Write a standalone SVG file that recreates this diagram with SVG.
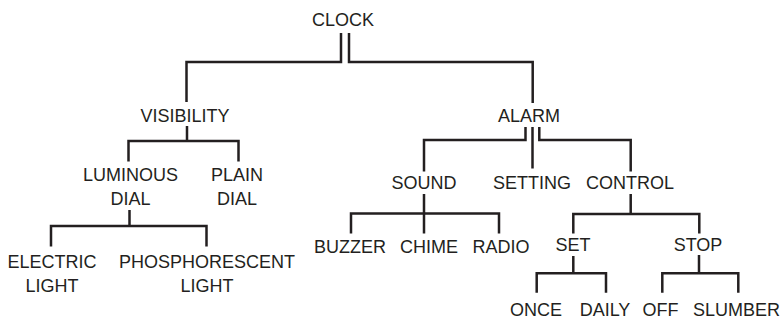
<svg xmlns="http://www.w3.org/2000/svg" width="784" height="320" viewBox="0 0 784 320">
<style>
text{font-family:"Liberation Sans",Arial,sans-serif;font-size:18px;fill:#231f20;text-anchor:middle}
.c path{fill:none;stroke:#231f20;stroke-width:2.5;stroke-linejoin:miter;stroke-linecap:butt}
</style>
<rect width="784" height="320" fill="#fff"/>
<g class="c" id="connectors">
<path d="M341 33V62H186.5V102"/>
<path d="M349 33V62H532.7V103"/>
<path d="M187 126V141M128.5 161.5V141H238.5V161.5"/>
<path d="M129.5 210V226M51 246.5V226H206.5V246.5"/>
<path d="M525.5 127V140H424V171.5"/>
<path d="M532.5 127V168.5"/>
<path d="M539.3 127V140H630.7V171.5"/>
<path d="M424 194V233.5M351 233.5V213.5H499V233.5"/>
<path d="M630.7 194V214M573.3 233.5V214H699.3V233.5"/>
<path d="M573.3 256V273.3M536.7 292.7V273.3H606V292.7"/>
<path d="M699 255V273.3M662.3 292.7V273.3H738.3V292.7"/>
</g>
<g id="clock"><text x="343" y="26">CLOCK</text></g>
<g id="visibility"><text x="185" y="122">VISIBILITY</text></g>
<g id="alarm"><text x="529" y="122">ALARM</text></g>
<g id="luminous-dial"><text x="130.5" y="181">LUMINOUS</text><text x="130.5" y="205">DIAL</text></g>
<g id="plain-dial"><text x="237" y="181">PLAIN</text><text x="237" y="205">DIAL</text></g>
<g id="electric-light"><text x="52" y="268">ELECTRIC</text><text x="52" y="292">LIGHT</text></g>
<g id="phosphorescent-light"><text x="207" y="268">PHOSPHORESCENT</text><text x="207" y="292">LIGHT</text></g>
<g id="sound"><text x="424" y="189">SOUND</text></g>
<g id="setting"><text x="532" y="189">SETTING</text></g>
<g id="control"><text x="630" y="189">CONTROL</text></g>
<g id="buzzer"><text x="350" y="253">BUZZER</text></g>
<g id="chime"><text x="429" y="253">CHIME</text></g>
<g id="radio"><text x="501" y="253">RADIO</text></g>
<g id="set"><text x="573" y="251">SET</text></g>
<g id="stop"><text x="698" y="251">STOP</text></g>
<g id="once"><text x="536" y="316">ONCE</text></g>
<g id="daily"><text x="605" y="316">DAILY</text></g>
<g id="off"><text x="660.5" y="316">OFF</text></g>
<g id="slumber"><text x="736.5" y="316">SLUMBER</text></g>
</svg>
